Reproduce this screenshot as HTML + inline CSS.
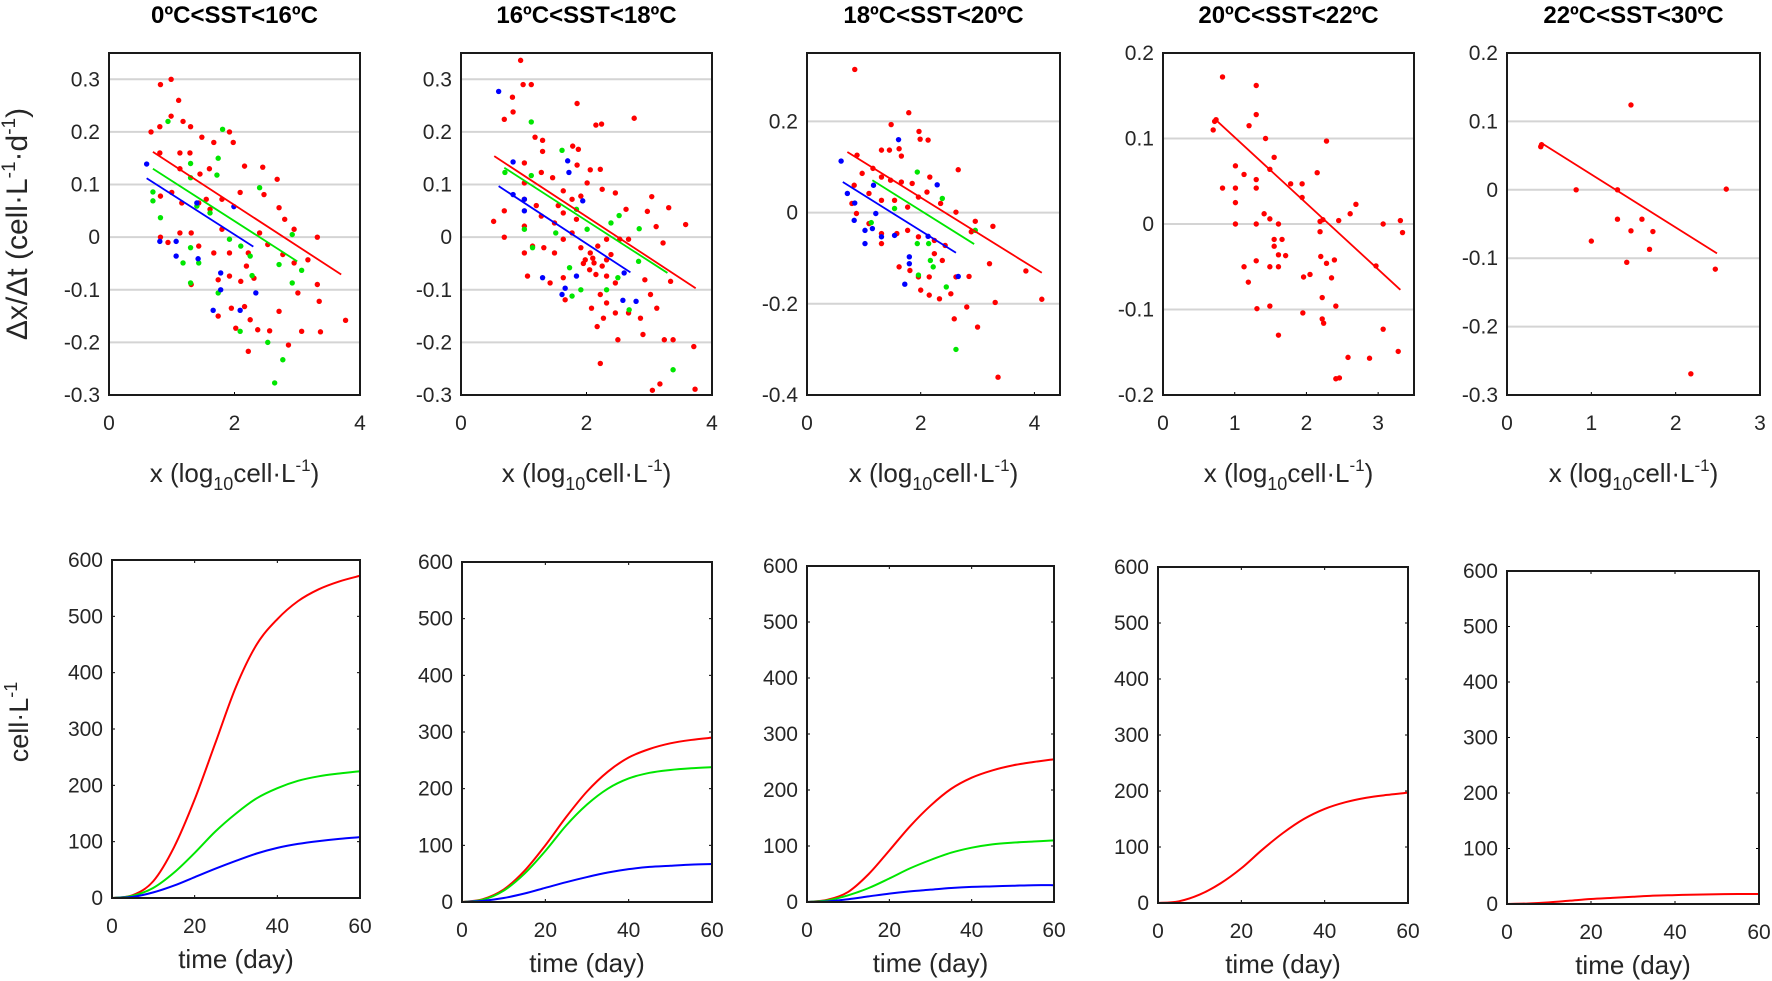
<!DOCTYPE html>
<html><head><meta charset="utf-8"><style>
html,body{margin:0;padding:0;background:#fff;}
svg{display:block;font-family:"Liberation Sans",Arial,sans-serif;}
</style></head><body>
<svg id="fig" width="1772" height="981" viewBox="0 0 1772 981" xmlns="http://www.w3.org/2000/svg"></svg>
<script>
// ---------- scatter data (x, dx/dt) ----------
const p1Red=[[0.82,0.29],[0.99,0.30],[1.11,0.26],[0.67,0.20],[0.81,0.21],[0.99,0.23],[1.18,0.22],[1.30,0.21],[0.81,0.16],[1.13,0.16],[1.29,0.16],[1.48,0.19],[1.67,0.18],[1.92,0.20],[1.98,0.18],[1.13,0.13],[1.45,0.12],[1.60,0.13],[1.00,0.085],[1.16,0.065],[1.43,0.065],[1.61,0.053],[1.80,0.072],[2.09,0.085],[2.16,0.135],[2.45,0.133],[2.47,0.081],[2.68,0.11],[2.71,0.056],[2.80,0.034],[2.95,0.015],[3.32,0.0],[0.82,0.0],[0.94,-0.01],[1.13,0.008],[1.31,0.008],[1.43,-0.017],[1.67,-0.03],[1.92,-0.03],[2.22,-0.03],[2.19,-0.055],[2.40,0.008],[2.53,-0.014],[2.77,-0.033],[2.95,-0.049],[3.17,-0.043],[1.74,-0.081],[1.92,-0.074],[2.10,-0.084],[2.31,-0.078],[3.01,-0.106],[3.32,-0.09],[3.35,-0.122],[1.74,-0.15],[1.95,-0.135],[2.16,-0.132],[2.25,-0.157],[2.37,-0.176],[2.56,-0.178],[2.71,-0.141],[2.86,-0.205],[3.07,-0.179],[3.37,-0.18],[3.77,-0.158],[2.22,-0.217],[2.02,-0.173],[1.31,-0.09],[0.82,0.078],[1.55,0.072],[1.80,0.015]];
const p1Green=[[0.94,0.22],[1.81,0.205],[1.74,0.15],[1.30,0.14],[1.72,0.118],[0.70,0.086],[0.70,0.069],[0.82,0.037],[1.30,0.113],[1.40,0.059],[1.61,0.046],[1.92,-0.004],[2.10,-0.017],[2.25,-0.036],[2.40,0.094],[2.71,-0.052],[2.92,0.005],[3.07,-0.063],[2.92,-0.087],[1.30,-0.02],[1.18,-0.049],[1.30,-0.087],[1.43,-0.049],[1.74,-0.106],[2.09,-0.179],[2.53,-0.2],[2.77,-0.233],[2.64,-0.277],[2.28,-0.073]];
const p1Blue=[[0.60,0.139],[0.81,-0.008],[1.07,-0.008],[1.07,-0.036],[1.40,0.065],[1.42,-0.041],[1.78,-0.068],[1.78,-0.1],[1.66,-0.139],[1.99,0.058],[2.09,-0.139],[2.34,-0.106]];
const p1Fits=[[0.70,0.162,3.70,-0.071],[0.70,0.130,3.0,-0.046],[0.60,0.112,2.30,-0.018]];

const p2Red=[[0.95,0.336],[0.99,0.29],[1.12,0.29],[0.82,0.266],[0.83,0.238],[0.69,0.224],[1.85,0.254],[2.76,0.226],[2.15,0.213],[2.24,0.215],[1.18,0.19],[1.30,0.184],[1.30,0.163],[1.78,0.173],[1.87,0.167],[1.85,0.137],[2.06,0.128],[2.22,0.129],[1.01,0.141],[0.52,0.03],[0.69,0.0],[0.69,0.05],[1.01,0.103],[1.01,0.072],[1.28,0.123],[1.46,0.113],[1.63,0.088],[1.77,0.072],[1.91,0.078],[2.01,0.103],[2.25,0.091],[2.46,0.084],[2.63,0.053],[3.04,0.077],[2.97,0.049],[3.11,0.02],[3.31,0.056],[3.58,0.024],[3.22,-0.011],[1.28,0.04],[1.49,0.027],[1.63,0.046],[1.84,0.034],[1.01,0.021],[1.01,-0.03],[1.14,-0.017],[1.32,-0.02],[1.49,-0.03],[1.63,-0.004],[1.77,0.008],[1.91,-0.02],[2.06,-0.03],[2.12,-0.049],[1.98,-0.043],[2.25,-0.055],[2.39,-0.033],[2.18,-0.017],[2.32,-0.004],[2.53,-0.004],[2.67,-0.004],[2.05,-0.062],[2.32,-0.074],[2.46,-0.087],[1.06,-0.074],[1.42,-0.087],[1.66,-0.119],[1.63,-0.077],[2.22,-0.109],[2.32,-0.125],[2.46,-0.144],[2.67,-0.144],[2.08,-0.135],[2.17,-0.17],[2.27,-0.154],[2.86,-0.154],[3.02,-0.109],[3.12,-0.135],[2.93,-0.081],[3.34,-0.084],[2.50,-0.195],[2.90,-0.185],[3.24,-0.195],[3.38,-0.195],[2.22,-0.24],[3.71,-0.208],[3.17,-0.279],[3.05,-0.291],[3.73,-0.289],[2.15,-0.071],[2.32,-0.043],[1.95,-0.05],[2.10,-0.04],[1.20,0.06],[1.55,0.06]];
const p2Green=[[1.12,0.219],[1.61,0.165],[0.70,0.123],[1.12,0.117],[1.84,0.053],[2.01,0.015],[2.52,0.041],[2.84,0.016],[2.39,0.027],[1.01,0.015],[1.51,0.008],[1.73,-0.058],[1.91,-0.1],[1.77,-0.112],[2.32,-0.1],[2.50,-0.077],[2.83,-0.046],[2.68,-0.138],[3.38,-0.252],[1.14,-0.02]];
const p2Blue=[[0.60,0.277],[0.83,0.143],[1.70,0.145],[1.72,0.123],[1.94,0.069],[0.83,0.081],[1.01,0.072],[1.01,0.05],[1.30,-0.077],[1.61,-0.109],[1.66,-0.097],[1.84,-0.074],[2.60,-0.068],[2.58,-0.12],[2.79,-0.122]];
const p2Fits=[[0.53,0.154,3.74,-0.097],[0.69,0.132,3.29,-0.068],[0.60,0.097,2.70,-0.067]];

const p3Red=[[0.84,0.314],[1.79,0.219],[1.48,0.193],[1.97,0.178],[1.99,0.161],[2.13,0.159],[1.31,0.137],[1.45,0.137],[1.62,0.14],[1.66,0.124],[0.88,0.126],[0.97,0.086],[1.16,0.097],[1.31,0.078],[1.47,0.071],[1.66,0.067],[1.85,0.064],[2.16,0.078],[2.66,0.094],[0.83,0.06],[1.09,0.042],[1.31,0.027],[1.54,0.027],[1.77,0.012],[1.96,0.034],[2.11,0.045],[2.35,0.02],[2.62,0.001],[2.96,-0.019],[3.27,-0.03],[0.79,0.02],[0.87,-0.002],[1.09,-0.024],[1.31,-0.046],[1.58,-0.046],[1.77,-0.039],[1.96,-0.053],[2.24,-0.061],[2.43,-0.072],[2.89,-0.042],[1.31,-0.068],[1.62,-0.119],[1.81,-0.127],[1.96,-0.141],[2.15,-0.141],[2.38,-0.105],[2.62,-0.141],[2.85,-0.14],[2.0,-0.17],[2.15,-0.181],[2.33,-0.189],[2.53,-0.178],[3.21,-0.112],[3.85,-0.128],[4.13,-0.19],[3.31,-0.197],[2.81,-0.207],[2.59,-0.233],[3.0,-0.251],[3.36,-0.361],[2.24,-0.09]];
const p3Green=[[1.94,0.089],[2.38,0.031],[1.13,-0.022],[1.54,0.009],[1.94,-0.068],[2.14,-0.068],[1.96,-0.137],[2.17,-0.105],[2.22,-0.119],[2.45,-0.163],[2.62,-0.3],[2.96,-0.039]];
const p3Blue=[[0.60,0.113],[0.71,0.042],[0.84,0.021],[0.83,-0.017],[1.02,-0.039],[1.02,-0.068],[1.15,-0.035],[1.17,0.06],[1.21,-0.002],[1.31,-0.053],[1.54,-0.05],[1.61,0.16],[1.80,-0.097],[1.80,-0.112],[1.72,-0.157],[2.29,0.061],[2.13,-0.052],[2.66,-0.14]];
const p3Fits=[[0.71,0.133,4.13,-0.132],[1.15,0.071,2.94,-0.069],[0.63,0.067,2.62,-0.088]];

const p4Red=[[0.83,0.172],[1.30,0.162],[1.30,0.128],[1.20,0.115],[0.72,0.12],[0.70,0.11],[0.74,0.122],[1.43,0.1],[2.28,0.097],[1.55,0.078],[1.49,0.064],[1.01,0.068],[1.13,0.058],[1.30,0.052],[1.30,0.042],[0.83,0.042],[1.01,0.042],[1.78,0.047],[1.94,0.047],[2.15,0.06],[1.94,0.031],[1.01,0.025],[1.01,0.0],[1.30,0.0],[1.41,0.012],[1.49,0.006],[1.61,0.0],[2.19,0.003],[2.23,0.005],[2.45,0.004],[2.61,0.012],[2.69,0.023],[3.07,0.0],[3.31,0.004],[3.34,-0.01],[2.19,-0.009],[1.55,-0.018],[1.66,-0.018],[1.55,-0.026],[1.61,-0.036],[1.71,-0.037],[1.13,-0.05],[1.49,-0.05],[1.61,-0.05],[1.30,-0.043],[2.20,-0.038],[2.28,-0.046],[2.39,-0.042],[1.96,-0.062],[2.05,-0.059],[2.35,-0.063],[2.97,-0.049],[1.19,-0.068],[1.31,-0.099],[1.49,-0.096],[1.95,-0.104],[2.22,-0.086],[2.41,-0.096],[1.61,-0.13],[2.22,-0.111],[2.24,-0.116],[3.07,-0.123],[2.58,-0.156],[2.88,-0.157],[3.28,-0.149],[2.41,-0.181],[2.46,-0.18]];
const p4Fits=[[0.72,0.123,3.31,-0.077]];

const p5Red=[[0.40,0.063],[0.41,0.066],[0.82,0.0],[1.47,0.124],[1.31,0.0],[2.60,0.001],[1.0,-0.075],[1.31,-0.043],[1.60,-0.043],[1.47,-0.06],[1.73,-0.061],[1.69,-0.087],[1.42,-0.106],[2.47,-0.116],[2.18,-0.269]];
const p5Fits=[[0.40,0.069,2.49,-0.093]];

// ---------- model curves (cell/L vs time) ----------
const days=[0,5,10,15,20,25,30,35,40,45,50,55,60];
const c1Red=[0,5,30,90,175,275,375,450,495,527,548,562,572];
const c1Green=[0,4,18,45,80,118,150,177,195,208,216,221,225];
const c1Blue=[0,2,10,22,37,52,66,79,89,96,101,105,108];
const c2Red=[0,5,22,55,100,150,195,230,255,270,280,286,290];
const c2Green=[0,4,20,50,90,135,172,200,218,228,233,236,238];
const c2Blue=[0,2,7,15,25,35,44,52,58,62,64,66,67];
const c3Red=[0,4,18,50,92,135,172,202,222,235,244,250,255];
const c3Green=[0,3,12,25,42,60,75,88,97,103,106,108,110];
const c3Blue=[0,1,5,10,15,19,22,25,27,28,29,30,30];
const c4Red=[0,3,15,35,62,95,125,150,168,180,188,193,197];
const c5Red=[0,1,3,6,9,11,13,15,16,17,17.5,18,18];

const titles=["0ºC<SST<16ºC","16ºC<SST<18ºC","18ºC<SST<20ºC","20ºC<SST<22ºC","22ºC<SST<30ºC"];
const topTicks1=["-0.3","-0.2","-0.1","0","0.1","0.2","0.3"];
const topTicks3=["-0.4","-0.2","0","0.2"];
const topTicks4=["-0.2","-0.1","0","0.1","0.2"];
const topTicks5=["-0.3","-0.2","-0.1","0","0.1","0.2"];
const xTicks4=["0","2","4"];
const xTicks35=["0","1","2","3"];
const botYTicks=["0","100","200","300","400","500","600"];
const botXTicks=["0","20","40","60"];

const NS="http://www.w3.org/2000/svg";
const svg=document.getElementById('fig');
function mk(tag,attrs,parent){const e=document.createElementNS(NS,tag);for(const k in attrs)e.setAttribute(k,attrs[k]);(parent||svg).appendChild(e);return e;}
const RED="#ff0000",GREEN="#00e600",BLUE="#0000ff",TXT="#262626";

const topPanels=[
 {x0:109,x1:360,xl:[0,4],yl:[-0.3,0.35],yt:topTicks1,xt:xTicks4,sets:[[p1Red,RED],[p1Green,GREEN],[p1Blue,BLUE]],fits:p1Fits},
 {x0:461,x1:712,xl:[0,4],yl:[-0.3,0.35],yt:topTicks1,xt:xTicks4,sets:[[p2Red,RED],[p2Green,GREEN],[p2Blue,BLUE]],fits:p2Fits},
 {x0:807,x1:1060,xl:[0,4.45],yl:[-0.4,0.35],yt:topTicks3,xt:xTicks4,sets:[[p3Red,RED],[p3Green,GREEN],[p3Blue,BLUE]],fits:p3Fits},
 {x0:1163,x1:1414,xl:[0,3.5],yl:[-0.2,0.2],yt:topTicks4,xt:xTicks35,sets:[[p4Red,RED]],fits:p4Fits},
 {x0:1507,x1:1760,xl:[0,3],yl:[-0.3,0.2],yt:topTicks5,xt:xTicks35,sets:[[p5Red,RED]],fits:p5Fits}
];
const TY0=53,TY1=395;
const fitColors=[RED,GREEN,BLUE];

topPanels.forEach((p,i)=>{
 const g=mk('g',{});
 
 
 const sx=v=>p.x0+(v-p.xl[0])/(p.xl[1]-p.xl[0])*(p.x1-p.x0);
 const sy=v=>TY1-(v-p.yl[0])/(p.yl[1]-p.yl[0])*(TY1-TY0);
 const t=mk('text',{x:(p.x0+p.x1)/2,y:23,'text-anchor':'middle','font-size':24,'font-weight':'bold',fill:'#000'},g);
 t.textContent=titles[i];
 
 
 p.yt.forEach(s=>{const v=parseFloat(s);const y=sy(v);
  if(y>TY0+1&&y<TY1-1){const gl=mk('line',{x1:p.x0,x2:p.x1,y1:y,y2:y,stroke:'#d4d4d4','stroke-width':2},g);
   }
  const tl=mk('text',{x:p.x0-9,y:y+7,'text-anchor':'end','font-size':21,fill:TXT},g);tl.textContent=s;
  
 });
 p.xt.forEach(s=>{const v=parseFloat(s);const x=sx(v);
  mk('line',{x1:x,x2:x,y1:TY1,y2:TY1-3,stroke:'#000','stroke-width':1},g);
  const tl=mk('text',{x:x,y:430,'text-anchor':'middle','font-size':21,fill:TXT},g);tl.textContent=s;
  
 });
 p.sets.forEach(([arr,col])=>{arr.forEach(d=>{
  const c=mk('circle',{cx:sx(d[0]),cy:sy(d[1]),r:2.7,fill:col},g);
  
  
 });});
 p.fits.forEach((f,k)=>{
  const l=mk('line',{x1:sx(f[0]),y1:sy(f[1]),x2:sx(f[2]),y2:sy(f[3]),stroke:fitColors[k],'stroke-width':1.8},g);
  
  
 });
 const box=mk('rect',{x:p.x0,y:TY0,width:p.x1-p.x0,height:TY1-TY0,fill:'none',stroke:'#1a1a1a','stroke-width':2},g);
 
 const xl=mk('text',{x:(p.x0+p.x1)/2,y:482,'text-anchor':'middle','font-size':26,fill:TXT},g);
 xl.innerHTML='x (log<tspan font-size="18" dy="8">10</tspan><tspan dy="-8">cell·L</tspan><tspan font-size="17" dy="-11">-1</tspan><tspan dy="11">)</tspan>';
 
});

const yl1=mk('text',{x:0,y:0,'text-anchor':'middle','font-size':30,fill:TXT,transform:'translate(27,224) rotate(-90)'});
yl1.innerHTML='Δx/Δt (cell·L<tspan font-size="19" dy="-12">-1</tspan><tspan dy="12">·d</tspan><tspan font-size="19" dy="-12">-1</tspan><tspan dy="12">)</tspan>';


const bottomPanels=[
 {x0:112,x1:360,y0:560,y1:898,series:[[c1Red,RED],[c1Green,GREEN],[c1Blue,BLUE]]},
 {x0:462,x1:712,y0:562,y1:902,series:[[c2Red,RED],[c2Green,GREEN],[c2Blue,BLUE]]},
 {x0:807,x1:1054,y0:566,y1:902,series:[[c3Red,RED],[c3Green,GREEN],[c3Blue,BLUE]]},
 {x0:1158,x1:1408,y0:567,y1:903,series:[[c4Red,RED]]},
 {x0:1507,x1:1759,y0:571,y1:904,series:[[c5Red,RED]]}
];
bottomPanels.forEach((p,i)=>{
 const g=mk('g',{});
 
 
 const sx=v=>p.x0+v/60*(p.x1-p.x0);
 const sy=v=>p.y1-v/600*(p.y1-p.y0);
 botYTicks.forEach(s=>{const y=sy(parseFloat(s));
  mk('line',{x1:p.x0,x2:p.x0+3,y1:y,y2:y,stroke:'#000'},g);mk('line',{x1:p.x1,x2:p.x1-3,y1:y,y2:y,stroke:'#000'},g);
  const tl=mk('text',{x:p.x0-9,y:y+7,'text-anchor':'end','font-size':21,fill:TXT},g);tl.textContent=s;
  });
 botXTicks.forEach(s=>{const x=sx(parseFloat(s));
  mk('line',{x1:x,x2:x,y1:p.y1,y2:p.y1-3,stroke:'#000'},g);mk('line',{x1:x,x2:x,y1:p.y0,y2:p.y0+3,stroke:'#000'},g);
  const tl=mk('text',{x:x,y:p.y1+35,'text-anchor':'middle','font-size':21,fill:TXT},g);tl.textContent=s;
  });
 p.series.forEach(([arr,col])=>{
  const pts=arr.map((v,k)=>[sx(days[k]),sy(v)]);
  let d='M'+pts[0][0]+','+pts[0][1];
  for(let k=0;k<pts.length-1;k++){const a=pts[Math.max(k-1,0)],b=pts[k],c=pts[k+1],e=pts[Math.min(k+2,pts.length-1)];
   d+=' C'+(b[0]+(c[0]-a[0])/6)+','+(b[1]+(c[1]-a[1])/6)+' '+(c[0]-(e[0]-b[0])/6)+','+(c[1]-(e[1]-b[1])/6)+' '+c[0]+','+c[1];}
  const path=mk('path',{d:d,fill:'none',stroke:col,'stroke-width':2},g);
  
  
 });
 const box=mk('rect',{x:p.x0,y:p.y0,width:p.x1-p.x0,height:p.y1-p.y0,fill:'none',stroke:'#1a1a1a','stroke-width':2},g);
 
 const xl=mk('text',{x:(p.x0+p.x1)/2,y:p.y1+70,'text-anchor':'middle','font-size':26,fill:TXT},g);
 xl.textContent='time (day)';
 
});
const yl2=mk('text',{x:0,y:0,'text-anchor':'middle','font-size':27,fill:TXT,transform:'translate(28,722) rotate(-90)'});
yl2.innerHTML='cell·L<tspan font-size="18" dy="-11">-1</tspan>';

</script>
</body></html>
